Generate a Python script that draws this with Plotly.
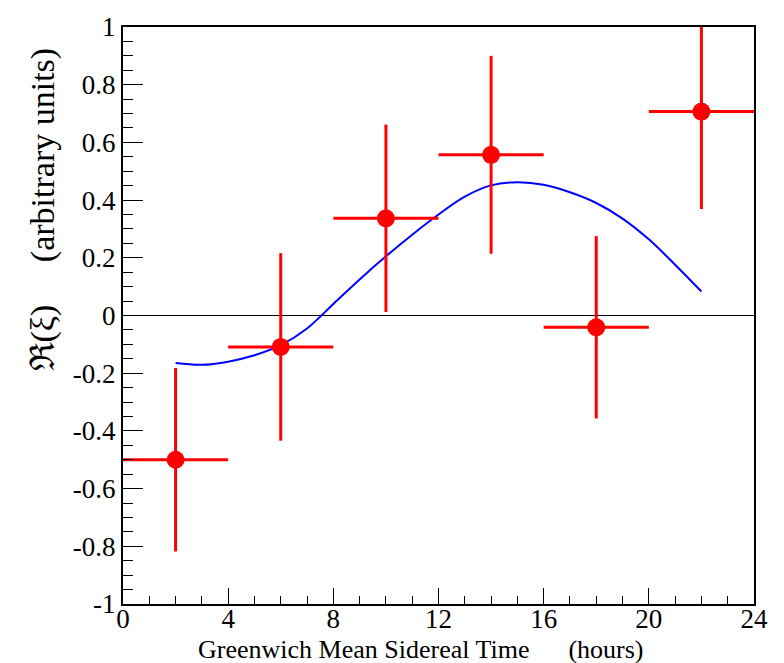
import plotly.graph_objects as go

# Data points (Greenwich Mean Sidereal Time bins)
gmst = [2, 6, 10, 14, 18, 22]
gmst_err = [2, 2, 2, 2, 2, 2]
re_xi = [-0.50, -0.109, 0.337, 0.557, -0.041, 0.707]
re_xi_err = [0.318, 0.325, 0.325, 0.343, 0.316, 0.338]

# Fitted curve
curve_x = [2, 3, 4, 5, 6, 7, 8, 9, 10, 11, 12, 13, 14, 15, 16, 17, 18, 19, 20, 21, 22]
curve_y = [-0.165, -0.171, -0.160, -0.138, -0.103, -0.045, 0.040, 0.125, 0.205, 0.28, 0.35,
           0.412, 0.451, 0.462, 0.453, 0.427, 0.39, 0.336, 0.264, 0.176, 0.083]

x_ticks = [0, 4, 8, 12, 16, 20, 24]
y_ticks = [-1, -0.8, -0.6, -0.4, -0.2, 0, 0.2, 0.4, 0.6, 0.8, 1]
y_ticklabels = ["-1", "-0.8", "-0.6", "-0.4", "-0.2", "0", "0.2", "0.4", "0.6", "0.8", "1"]

SERIF = "Liberation Serif"

fig = go.Figure()
fig.add_trace(go.Scatter(
    x=curve_x, y=curve_y, mode="lines",
    line=dict(color="#0000ff", width=2, shape="spline"),
    showlegend=False, hoverinfo="skip",
))
fig.add_trace(go.Scatter(
    x=gmst, y=re_xi, mode="markers",
    marker=dict(color="#ff0000", size=18, symbol="circle"),
    error_x=dict(type="data", array=gmst_err, color="#ff0000", thickness=3, width=0),
    error_y=dict(type="data", array=re_xi_err, color="#ff0000", thickness=3, width=0),
    showlegend=False, cliponaxis=True,
))

fig.update_layout(
    width=784, height=663,
    margin=dict(l=123, r=30, t=19, b=59),
    paper_bgcolor="white", plot_bgcolor="white",
    font=dict(family=SERIF, size=27, color="black"),
    xaxis=dict(
        range=[0, 24], tickvals=x_ticks, ticks="inside", ticklen=16, tickwidth=1,
        tickcolor="black", showgrid=False, zeroline=False,
        showline=True, linecolor="black", linewidth=2, mirror=True,
        minor=dict(dtick=1, ticklen=8, tickcolor="black", ticks="inside", showgrid=False),
        tickfont=dict(family=SERIF, size=27),
        ticklabelstandoff=-10,
    ),
    yaxis=dict(
        range=[-1, 1], tickvals=y_ticks, ticktext=y_ticklabels, ticks="inside", ticklen=20,
        tickwidth=1, tickcolor="black", showgrid=False,
        zeroline=True, zerolinecolor="black", zerolinewidth=1,
        showline=True, linecolor="black", linewidth=2, mirror=True,
        minor=dict(dtick=0.05, ticklen=10, tickcolor="black", ticks="inside", showgrid=False),
        tickfont=dict(family=SERIF, size=27),
    ),
    annotations=[
        dict(text="Greenwich Mean Sidereal Time" + "\u00a0" * 6 + "(hours)",
             xref="paper", yref="paper", x=0.472, y=-0.078,
             xanchor="center", yanchor="middle", showarrow=False,
             font=dict(family=SERIF, size=26)),
        dict(text="\u211c(\u03be)" + "\u00a0" * 5 + "(arbitrary units)",
             xref="paper", yref="paper", x=-0.1268, y=0.968,
             xanchor="center", yanchor="top", textangle=-90, showarrow=False,
             font=dict(family=SERIF, size=34)),
    ],
)

fig.write_html("out.html", config={"displayModeBar": False},
               post_script="document.body.style.margin='0';")
